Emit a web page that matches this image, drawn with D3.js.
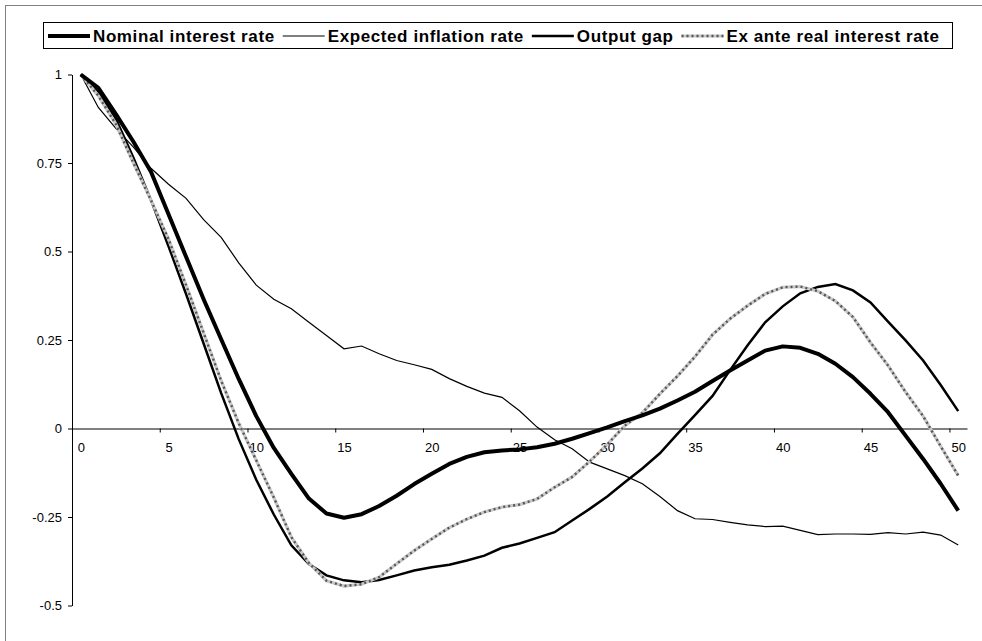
<!DOCTYPE html>
<html>
<head>
<meta charset="utf-8">
<script src="https://cdn.jsdelivr.net/npm/d3@7"></script>
<style>
  body { margin: 0; background: #fff; }
  svg { display: block; font-family: "Liberation Sans", Arial, sans-serif; }
</style>
</head>
<body>
<div id="container"></div>
<script>
// periods 0..50
let periods = d3.range(0, 51);

let nominalRate = [1.0, 0.962, 0.888, 0.81, 0.725, 0.605, 0.485, 0.365, 0.252, 0.14,
  0.035, -0.055, -0.128, -0.198, -0.24, -0.252, -0.242, -0.219, -0.19, -0.157,
  -0.128, -0.10, -0.08, -0.067, -0.062, -0.059, -0.053, -0.043, -0.029, -0.013,
  0.003, 0.021, 0.037, 0.056, 0.079, 0.104, 0.134, 0.164, 0.192, 0.22,
  0.232, 0.228, 0.211, 0.183, 0.145, 0.098, 0.046, -0.02, -0.086, -0.156, -0.232];

let expectedInflation = [1.0, 0.907, 0.848, 0.795, 0.735, 0.69, 0.65, 0.59, 0.54, 0.468,
  0.405, 0.365, 0.338, 0.30, 0.263, 0.225, 0.233, 0.211, 0.192, 0.18,
  0.167, 0.141, 0.119, 0.10, 0.088, 0.05, 0.004, -0.032, -0.057, -0.095,
  -0.114, -0.133, -0.156, -0.192, -0.232, -0.255, -0.257, -0.265, -0.272, -0.277,
  -0.276, -0.288, -0.30, -0.298, -0.298, -0.299, -0.294, -0.298, -0.293, -0.301, -0.329];

let outputGap = [1.0, 0.95, 0.875, 0.765, 0.645, 0.515, 0.38, 0.24, 0.10, -0.03,
  -0.145, -0.243, -0.33, -0.383, -0.415, -0.429, -0.434, -0.428, -0.415, -0.401,
  -0.392, -0.385, -0.373, -0.359, -0.337, -0.325, -0.309, -0.293, -0.26, -0.227,
  -0.192, -0.152, -0.113, -0.07, -0.015, 0.038, 0.092, 0.165, 0.235, 0.30,
  0.345, 0.382, 0.40, 0.408, 0.39, 0.356, 0.302, 0.249, 0.192, 0.123, 0.049];

let exAnteReal = [1.0, 0.94, 0.86, 0.75, 0.645, 0.535, 0.405, 0.27, 0.135, 0.015,
  -0.09, -0.195, -0.307, -0.38, -0.43, -0.445, -0.44, -0.42, -0.382, -0.345,
  -0.312, -0.28, -0.256, -0.236, -0.222, -0.215, -0.199, -0.166, -0.137, -0.093,
  -0.045, 0.008, 0.044, 0.098, 0.148, 0.203, 0.265, 0.31, 0.347, 0.38,
  0.399, 0.401, 0.388, 0.36, 0.315, 0.243, 0.178, 0.103, 0.035, -0.05, -0.133];

let seriesNames = ["Nominal interest rate", "Expected inflation rate", "Output gap", "Ex ante real interest rate"];
let yTicks = [-0.5, -0.25, 0, 0.25, 0.5, 0.75, 1];
let xLabels = [0, 5, 10, 15, 20, 25, 30, 35, 40, 45, 50];

let w = 982;
let h = 641;

let viz = d3.select("#container")
  .append("svg")
    .attr("width", w)
    .attr("height", h);

// outer chart frame (only top/left visible)
viz.append("rect")
  .attr("x", 5.5).attr("y", 5.5)
  .attr("width", 1000).attr("height", 1000)
  .attr("fill", "none")
  .attr("stroke", "#808080");

let xScale = d3.scaleLinear().domain([-0.5, 50.5]).range([72, 967]);
let yScale = d3.scaleLinear().domain([-0.5, 1]).range([605.5, 74.5]);

// y axis
let yAxis = d3.axisLeft(yScale)
  .tickValues(yTicks)
  .tickSize(4)
  .tickSizeOuter(0)
  .tickPadding(6)
  .tickFormat(function(d){ return String(d); });
let yAxisGroup = viz.append("g")
  .attr("class", "yaxisgroup")
  .attr("transform", "translate(" + xScale(-0.5) + ",0)")
  .call(yAxis);

// x axis at zero: tick marks between categories, labels on categories
let xTickMarks = d3.axisBottom(xScale)
  .tickValues(xLabels.slice(1).map(function(d){ return d - 0.5; }))
  .tickSize(4)
  .tickSizeOuter(0)
  .tickFormat("");
viz.append("g")
  .attr("class", "xaxisgroup")
  .attr("transform", "translate(0," + yScale(0) + ")")
  .call(xTickMarks);

let xLabelAxis = d3.axisBottom(xScale)
  .tickValues(xLabels)
  .tickSize(0)
  .tickPadding(14)
  .tickFormat(function(d){ return String(d); });
let xLabelGroup = viz.append("g")
  .attr("transform", "translate(0," + yScale(0) + ")")
  .call(xLabelAxis);
xLabelGroup.select(".domain").remove();

viz.selectAll(".tick text")
  .attr("font-size", 13)
  .attr("font-family", "Liberation Sans, Arial, sans-serif")
  .attr("fill", "#000");
viz.selectAll(".domain, .tick line").attr("stroke", "#000");

// lines
let lineMaker = d3.line()
  .x(function(d, i){ return xScale(periods[i]); })
  .y(function(d){ return yScale(d); });

let graphGroup = viz.append("g").attr("class", "graphGroup");

graphGroup.append("path")
  .attr("d", lineMaker(expectedInflation))
  .attr("fill", "none").attr("stroke", "#000").attr("stroke-width", 1.2);

graphGroup.append("path")
  .attr("d", lineMaker(outputGap))
  .attr("fill", "none").attr("stroke", "#000").attr("stroke-width", 2.5);

graphGroup.append("path")
  .attr("d", lineMaker(exAnteReal))
  .attr("fill", "none").attr("stroke", "#c8c8c8").attr("stroke-width", 3.2);
graphGroup.append("path")
  .attr("d", lineMaker(exAnteReal))
  .attr("fill", "none").attr("stroke", "#555").attr("stroke-width", 2.4)
  .attr("stroke-dasharray", "2,3");

graphGroup.append("path")
  .attr("d", lineMaker(nominalRate))
  .attr("fill", "none").attr("stroke", "#000").attr("stroke-width", 4)
  .attr("stroke-linejoin", "round");

// legend
let legendStyles = [
  {width: 4, dash: null},
  {width: 1.2, dash: null},
  {width: 2.5, dash: null},
  {width: 3, dash: "2,3"}
];

let legend = viz.append("g").attr("class", "legend");
legend.append("rect")
  .attr("x", 43.5).attr("y", 22.5)
  .attr("width", 909).attr("height", 26)
  .attr("fill", "#fff").attr("stroke", "#000");

let lx = 48;
seriesNames.forEach(function(name, i){
  let st = legendStyles[i];
  if (st.dash) {
    legend.append("line")
      .attr("x1", lx).attr("x2", lx + 42).attr("y1", 36).attr("y2", 36)
      .attr("stroke", "#c8c8c8").attr("stroke-width", 3.2);
    legend.append("line")
      .attr("x1", lx).attr("x2", lx + 42).attr("y1", 36).attr("y2", 36)
      .attr("stroke", "#555").attr("stroke-width", 2.4).attr("stroke-dasharray", st.dash);
  } else {
    legend.append("line")
      .attr("x1", lx).attr("x2", lx + 42).attr("y1", 36).attr("y2", 36)
      .attr("stroke", "#000").attr("stroke-width", st.width);
  }
  let t = legend.append("text")
    .attr("x", lx + 45).attr("y", 42)
    .attr("font-size", 17)
    .attr("font-weight", "bold")
    .attr("letter-spacing", 0.6)
    .text(name);
  lx = lx + 45 + t.node().getComputedTextLength() + 8;
});
</script>
</body>
</html>
